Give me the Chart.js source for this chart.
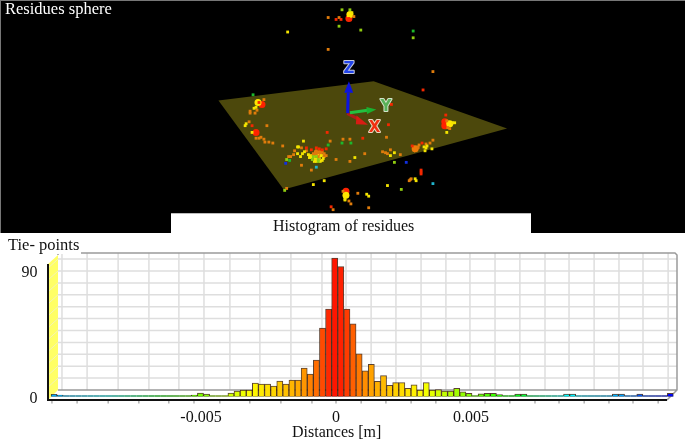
<!DOCTYPE html>
<html>
<head>
<meta charset="utf-8">
<title>Residues</title>
<script src="https://cdn.jsdelivr.net/npm/chart.js@4"></script>
<style>
html, body { margin: 0; padding: 0; background: #fff; }
#page { position: relative; width: 685px; height: 446px; overflow: hidden; font-family: "Liberation Serif", serif; font-size: 16px; color: #111; }
canvas { position: absolute; left: 0; top: 0; filter: blur(0.4px); }
#sphere { background: #000; }
.txt { position: absolute; white-space: nowrap; line-height: 18px; }
#frame { position: absolute; left: 0; top: 0; width: 684px; height: 232px; border-top: 1px solid #777; border-left: 1px solid #777; }
#titlebox { position: absolute; left: 171px; top: 213px; width: 360px; height: 20px; background: #fff; border-top: 1px solid #bbb; box-sizing: border-box; }
</style>
</head>
<body>
<div id="page">
  <canvas id="hist" width="685" height="446"></canvas>
  <canvas id="sphere" width="685" height="233"></canvas>
  <div id="frame"></div>
  <div id="titlebox"></div>
  <div class="txt" style="left:5px;top:0;color:#fff;font-size:16.5px">Residues sphere</div>
  <div class="txt" style="left:273px;top:217px">Histogram of residues</div>
  <div class="txt" style="left:8px;top:236px;font-size:16.5px;background:#fff;padding-right:2px">Tie- points</div>
  <div class="txt" style="left:292px;top:423px">Distances [m]</div>
</div>

<script>
// histogram: tie-point count in each bin, left to right
const counts = [
    1.2, 0.7, 0, 0, 0, 0, 0, 0, 0, 0, 0, 0, 0, 0, 0, 0, 0, 0, 0, 0, 0, 0, 0,
    0.7, 2.1, 1.4, 0, 0, 0, 2, 3.6, 4.3, 4.3, 9.3, 8.6, 8.6, 7.1, 10.7, 8.6,
    11.4, 11.4, 20, 15.7, 25.7, 48.6, 62, 98.6, 92.4, 62, 51.6, 30.2, 18, 22.6,
    10.5, 14.5, 7.6, 9.5, 9.5, 5.5, 7.9, 4.3, 9.5, 4.3, 4.5, 3.6, 3.6, 5.5, 3,
    1.9, 0, 1.5, 1.9, 1.9, 1, 0, 0, 1.4, 1.4, 0, 0, 0, 0, 0, 0, 1.4, 1.4,
    0, 0, 0, 0, 0, 0, 1.4, 1.4, 0, 0, 1.4, 0, 0, 0, 0, 1.9
];
const firstBin = -0.010444;
const binWidth = 0.000226;
const xLabels = [-0.005, 0, 0.005];
const yLabels = [0, 90];

// minor ticks under the floor, the back wall repeats them
const xGrid = [
    -0.01052, -0.00959, -0.00844, -0.0073, -0.00619, -0.00526, -0.0043, -0.00319,
    -0.00204, -0.00089, 0, 0.00093, 0.00185, 0.00278, 0.0037, 0.00459, 0.00552,
    0.00644, 0.00737, 0.00826, 0.00919, 0.01011, 0.011, 0.01193
];
const yGrid = [8.5, 17, 25.5, 34, 42.5, 51, 59.5, 68, 76.5, 85, 93.5];

// colour along the distance axis [distance, hue]
const hueStops = [
    [0, 4], [0.0003, 10], [0.0007, 25], [0.0014, 40], [0.0032, 60], [0.0055, 100],
    [0.0065, 120], [0.0085, 180], [0.0105, 200], [0.0115, 225], [0.0125, 240]
];

// sphere view: plane, axes and residue points in view coordinates
const plane = [[217, 100], [374, 80], [509, 129], [283, 192], [217, 100]];
const zShaft = [[347.7, 113], [348.3, 92]];
const zHead = [[344.3, 92], [349, 80], [353.3, 92], [344.3, 92]];
const yShaft = [[350, 112.7], [368, 110]];
const yHead = [[366.7, 106.7], [376.7, 109.3], [367.3, 114], [366.7, 106.7]];
const xShaft = [[347.3, 113.3], [358, 119]];
const xHead = [[356.7, 115.5], [368.3, 125], [356, 124.5], [356.7, 115.5]];
const orangeWedge = [[413, 146], [421, 149], [415, 154], [413, 146]];
const axisNames = [
    ['Z', 349, 67, '#2244e8', '#c4c8dc'],
    ['Y', 386.5, 107, '#58b058', '#d4e4cc'],
    ['X', 375, 129, '#f03010', '#e8d8c0']
];

const redDots = [
    [349, 15], [350, 16], [348, 16], [336, 16], [341, 16], [424, 89], [392, 104],
    [258, 102], [251, 126], [327, 133], [311, 151], [316, 149], [322, 151], [326, 150],
    [306, 149], [389, 125], [363, 139], [413, 147], [423, 144], [447, 115],
    [422, 172], [422, 174], [422, 176], [331, 210], [319, 150]
];
const orangeDots = [
    [354, 13], [328, 14], [339, 14], [328, 47], [434, 70], [263, 99], [256, 110], [254, 113],
    [249, 111], [249, 113], [248, 122], [266, 126], [255, 139], [260, 138], [258, 139],
    [263, 140], [264, 143], [268, 143], [272, 144], [282, 147], [330, 142], [343, 140],
    [350, 140], [301, 149], [306, 152], [294, 152], [293, 156], [290, 158], [288, 158],
    [313, 155], [315, 153], [320, 153], [322, 153], [324, 158], [326, 157], [336, 161],
    [301, 167], [311, 172], [286, 191], [350, 163], [387, 138], [365, 155], [383, 153],
    [386, 154], [388, 155], [391, 151], [401, 156], [420, 146], [427, 145], [431, 144],
    [434, 141], [419, 148], [448, 121], [449, 128], [451, 129], [412, 181],
    [411, 182], [410, 183], [343, 194], [349, 204], [351, 207], [369, 211], [333, 213],
    [358, 196], [316, 155], [318, 154], [312, 157], [314, 156], [318, 158], [320, 156],
    [322, 156], [316, 152], [324, 155], [314, 161]
];
const yellowDots = [
    [352, 9], [287, 29], [255, 107], [253, 108], [245, 124], [244, 126], [251, 133],
    [297, 148], [298, 148], [303, 142], [304, 153], [297, 155], [302, 155], [300, 158],
    [308, 156], [311, 159], [314, 163], [322, 162], [313, 187], [324, 183], [355, 159],
    [391, 157], [395, 154], [425, 148], [428, 147], [427, 149], [426, 152], [433, 150],
    [454, 123], [456, 123], [448, 133], [416, 181], [417, 183], [388, 188], [345, 202],
    [345, 203], [367, 197], [369, 199], [310, 157], [315, 160], [319, 161], [321, 157],
    [323, 160], [316, 163], [320, 163], [309, 159]
];
const limeDots = [
    [342, 6], [350, 6], [339, 23], [361, 27], [414, 35], [286, 161], [313, 158],
    [318, 163], [395, 164], [402, 192], [284, 193], [312, 161], [316, 158], [318, 161]
];
const greenDots = [[414, 28], [252, 94], [328, 146], [342, 144], [351, 144], [289, 162]];
const cyanDots = [[316, 169], [434, 186]];
const blueDots = [[285, 165], [407, 164]];

// dense spots of the cloud
const redBlobs = [[261, 104], [349, 15], [446, 122], [446, 126], [255, 133], [346, 194]];
const orangeBlobs = [[318, 155], [448, 124], [416, 150]];
const yellowBlobs = [[350, 11], [257, 102], [451, 124], [317, 158], [346, 198]];

function hueAt(d) {
    const a = Math.abs(d);
    for (let i = 1; i < hueStops.length; i++) {
        if (a <= hueStops[i][0]) {
            const p = hueStops[i - 1], q = hueStops[i];
            return p[1] + (q[1] - p[1]) * (a - p[0]) / (q[0] - p[0]);
        }
    }
    return 240;
}

const binCenters = counts.map((c, i) => firstBin + i * binWidth);

// back wall, yellow side wall and floor of the fake 3D box
const box3d = {
    id: 'box3d',
    beforeDatasetsDraw(chart) {
        const { ctx, scales: { x, y } } = chart;
        const floorY = 400, backFloor = 390, backTop = 253, left = 48, back = 58, right = 677;

        ctx.save();
        ctx.lineWidth = 1.5;
        ctx.strokeStyle = '#dedede';
        xGrid.forEach(t => {
            const px = x.getPixelForValue(t) + 10;
            ctx.beginPath(); ctx.moveTo(px, backTop); ctx.lineTo(px, backFloor); ctx.stroke();
        });
        yGrid.forEach(v => {
            const py = y.getPixelForValue(v) - 6;
            ctx.beginPath(); ctx.moveTo(back, py); ctx.lineTo(right, py); ctx.stroke();
        });

        ctx.fillStyle = '#ffff66';
        ctx.beginPath();
        ctx.moveTo(left, 264); ctx.lineTo(back, 255); ctx.lineTo(back, backFloor); ctx.lineTo(left, floorY);
        ctx.closePath(); ctx.fill();
        ctx.strokeStyle = '#f4f4b8';
        ctx.lineWidth = 1;
        yGrid.forEach(v => {
            const py = y.getPixelForValue(v) - 6;
            ctx.beginPath(); ctx.moveTo(back, py); ctx.lineTo(left, py + 9); ctx.stroke();
        });

        ctx.strokeStyle = '#9a9a9a';
        ctx.lineWidth = 1.5;
        ctx.beginPath();
        ctx.moveTo(back, backTop + 2); ctx.lineTo(back, backTop);
        ctx.lineTo(right - 2, backTop); ctx.lineTo(right, backTop + 2);
        ctx.lineTo(right, backFloor); ctx.lineTo(667, floorY);
        ctx.moveTo(right, backFloor); ctx.lineTo(back, backFloor);
        ctx.stroke();

        ctx.strokeStyle = '#8a8a8a';
        ctx.lineWidth = 1;
        xGrid.forEach(t => {
            const px = x.getPixelForValue(t);
            ctx.beginPath(); ctx.moveTo(px, floorY); ctx.lineTo(px, floorY + 3.5); ctx.stroke();
        });

        // thin coloured line where the bins are empty
        ctx.lineWidth = 1.5;
        const half = x.getPixelForValue(binWidth) - x.getPixelForValue(0);
        binCenters.forEach(d => {
            const px = x.getPixelForValue(d);
            ctx.strokeStyle = 'hsl(' + hueAt(d) + ',60%,38%)';
            ctx.beginPath();
            ctx.moveTo(px - half / 2, y.getPixelForValue(0));
            ctx.lineTo(px + half / 2, y.getPixelForValue(0));
            ctx.stroke();
        });

        ctx.strokeStyle = '#111';
        ctx.lineWidth = 2;
        ctx.beginPath();
        ctx.moveTo(left, 264); ctx.lineTo(left, floorY); ctx.lineTo(667, floorY);
        ctx.stroke();
        ctx.restore();
    }
};

new Chart(document.querySelector('#hist'), {
    type: 'bar',
    data: {
        labels: binCenters,
        datasets: [{
            data: counts.map((c, i) => ({ x: binCenters[i], y: c })),
            backgroundColor: binCenters.map(d => 'hsl(' + hueAt(d) + ',100%,50%)'),
            borderColor: 'rgba(50,20,0,0.8)',
            borderWidth: 1,
            categoryPercentage: 1,
            barPercentage: 1
        }]
    },
    options: {
        responsive: false,
        animation: false,
        layout: { padding: { top: 254, left: 0, right: 11.5, bottom: 0 } },
        plugins: { legend: { display: false }, tooltip: { enabled: false } },
        scales: {
            x: {
                type: 'linear',
                offset: false,
                min: -0.010578,
                max: 0.0125,
                grid: { display: false, drawTicks: false },
                border: { display: false },
                afterFit(s) { s.height = 50; },
                afterBuildTicks(s) { s.ticks = xLabels.map(v => ({ value: v })); },
                ticks: {
                    autoSkip: false,
                    maxRotation: 0,
                    padding: 12,
                    color: '#111',
                    font: { family: 'Liberation Serif', size: 16 },
                    callback: v => String(v)
                }
            },
            y: {
                min: 0,
                max: 101.43,
                grid: { display: false, drawTicks: false },
                border: { display: false },
                afterFit(s) { s.width = 50.4; },
                afterBuildTicks(s) { s.ticks = yLabels.map(v => ({ value: v })); },
                ticks: {
                    padding: 13,
                    labelOffset: 2.5,
                    color: '#111',
                    font: { family: 'Liberation Serif', size: 16 }
                }
            }
        }
    },
    plugins: [box3d]
});

const asXY = list => list.map(([x, y]) => ({ x, y }));
const dots = (list, color, radius) => ({
    data: asXY(list), showLine: false, pointStyle: 'rect', pointRadius: radius || 2,
    pointBorderWidth: 0, pointBackgroundColor: color, backgroundColor: color
});
const blobs = (list, color) => ({
    data: asXY(list), showLine: false, pointStyle: 'circle', pointRadius: 3.5,
    pointBorderWidth: 0, pointBackgroundColor: color, backgroundColor: color
});
const poly = (list, color) => ({
    data: asXY(list), showLine: true, fill: 'shape', tension: 0,
    backgroundColor: color, borderColor: color, borderWidth: 0, pointRadius: 0
});
const bar3d = (list, color) => ({
    data: asXY(list), showLine: true, fill: false, tension: 0,
    borderColor: color, borderWidth: 3, pointRadius: 0
});

// letters next to the arrows
const axisLetters = {
    id: 'axisLetters',
    afterDatasetsDraw(chart) {
        const { ctx, scales: { x, y } } = chart;
        ctx.save();
        ctx.font = 'bold 15px "DejaVu Sans"';
        ctx.textAlign = 'center';
        ctx.textBaseline = 'middle';
        ctx.lineWidth = 2;
        ctx.lineJoin = 'round';
        axisNames.forEach(([name, ax, ay, fill, edge]) => {
            ctx.strokeStyle = edge;
            ctx.fillStyle = fill;
            ctx.strokeText(name, x.getPixelForValue(ax), y.getPixelForValue(ay));
            ctx.fillText(name, x.getPixelForValue(ax), y.getPixelForValue(ay));
        });
        ctx.restore();
    }
};

// chart.js draws the first dataset on top
new Chart(document.querySelector('#sphere'), {
    type: 'scatter',
    data: {
        datasets: [
            dots(redDots, '#f42800'),
            dots(limeDots, '#90cc10'),
            dots(yellowDots, '#f4e400'),
            dots(orangeDots, '#e07c0c'),
            dots(greenDots, '#1cb82c'),
            dots(cyanDots, '#20b4cc'),
            dots(blueDots, '#1030e0'),
            blobs(yellowBlobs, '#ffe600'),
            blobs(redBlobs, '#ff2200'),
            blobs(orangeBlobs, '#f07a08'),
            poly(zHead, '#0c14e0'),
            bar3d(zShaft, '#0c14e0'),
            poly(yHead, '#1cb030'),
            bar3d(yShaft, '#24c040'),
            poly(xHead, '#d81c14'),
            bar3d(xShaft, '#b01c18'),
            poly(orangeWedge, '#e07010'),
            poly(plane, '#4c480c')
        ]
    },
    options: {
        responsive: false,
        animation: false,
        layout: { padding: 0 },
        plugins: { legend: { display: false }, tooltip: { enabled: false } },
        scales: {
            x: { type: 'linear', display: false, min: 0, max: 685 },
            y: { type: 'linear', display: false, min: 0, max: 233, reverse: true }
        }
    },
    plugins: [axisLetters]
});
</script>
</body>
</html>
